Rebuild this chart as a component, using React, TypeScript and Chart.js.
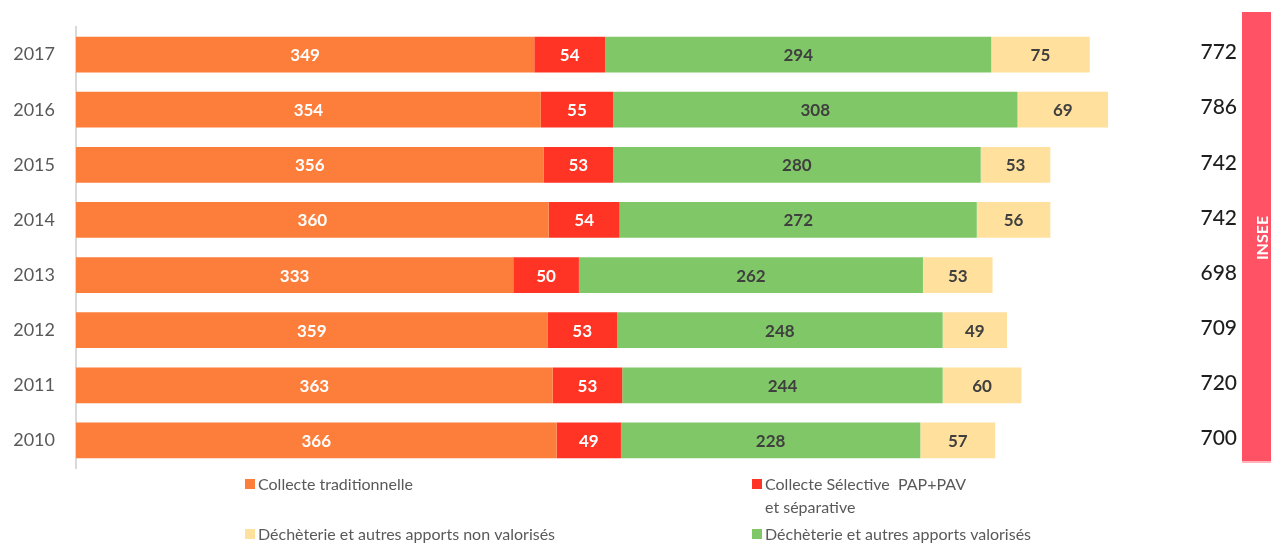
import React, { useEffect, useRef } from "react";
import { Chart, registerables } from "chart.js";

Chart.register(...registerables);

const years = ["2017", "2016", "2015", "2014", "2013", "2012", "2011", "2010"];
const collecteTraditionnelle = [349, 354, 356, 360, 333, 359, 363, 366];
const collecteSelective = [54, 55, 53, 54, 50, 53, 53, 49];
const dechetValorises = [294, 308, 280, 272, 262, 248, 244, 228];
const dechetNonValorises = [75, 69, 53, 56, 53, 49, 60, 57];
const totals = [772, 786, 742, 742, 698, 709, 720, 700];

const seriesLabels = [
  "Collecte traditionnelle",
  "Collecte Sélective  PAP+PAV et séparative",
  "Déchèterie et autres apports valorisés",
  "Déchèterie et autres apports non valorisés",
];
const legendLines = [
  ["Collecte traditionnelle"],
  ["Collecte Sélective  PAP+PAV", "et séparative"],
  ["Déchèterie et autres apports valorisés"],
  ["Déchèterie et autres apports non valorisés"],
];
const colors = ["#FD7E3A", "#FF3424", "#80C867", "#FFE09C"];
const labelColors = ["#FFFFFF", "#FFFFFF", "#3F3F3F", "#3F3F3F"];
const FONT = "Lato, 'Open Sans', sans-serif";

const labelsPlugin = {
  id: "barLabels",
  afterDatasetsDraw(chart: any) {
    const ctx = chart.ctx;
    ctx.save();
    ctx.font = `bold 17px ${FONT}`;
    ctx.textAlign = "center";
    ctx.textBaseline = "middle";
    chart.data.datasets.forEach((ds: any, di: number) => {
      const meta = chart.getDatasetMeta(di);
      meta.data.forEach((el: any, i: number) => {
        const p = el.getProps(["x", "base", "y"], true);
        ctx.fillStyle = labelColors[di];
        ctx.fillText(String(ds.data[i]), (p.x + p.base) / 2, p.y + 1);
      });
    });
    ctx.restore();
  },
};

const extrasPlugin = {
  id: "extras",
  afterDraw(chart: any) {
    const ctx = chart.ctx;
    const yScale = chart.scales.y;
    ctx.save();
    // INSEE band
    ctx.fillStyle = "#FF5264";
    ctx.fillRect(1242, 12, 30, 449);
    ctx.fillStyle = "#FFB3BB";
    ctx.fillRect(1242, 461, 30, 2);
    ctx.save();
    ctx.translate(1263, 238);
    ctx.rotate(-Math.PI / 2);
    ctx.fillStyle = "#FFFFFF";
    ctx.font = `bold 16px ${FONT}`;
    ctx.textAlign = "center";
    ctx.textBaseline = "middle";
    ctx.fillText("INSEE", 0, 0);
    ctx.restore();
    // totals
    ctx.fillStyle = "#1E1E1E";
    ctx.font = `500 21px ${FONT}`;
    ctx.textAlign = "right";
    ctx.textBaseline = "middle";
    totals.forEach((t, i) => {
      ctx.fillText(String(t), 1237, yScale.getPixelForValue(i) - 2);
    });
    // legend
    const items = [
      { di: 0, x: 245, y: 485 },
      { di: 1, x: 752, y: 485 },
      { di: 3, x: 245, y: 535 },
      { di: 2, x: 752, y: 535 },
    ];
    ctx.font = `16px ${FONT}`;
    ctx.textAlign = "left";
    items.forEach((it) => {
      ctx.fillStyle = colors[it.di];
      ctx.fillRect(it.x, it.y - 6, 10, 10);
      ctx.fillStyle = "#595959";
      legendLines[it.di].forEach((line, li) => {
        ctx.fillText(line, it.x + 13, it.y + li * 23);
      });
    });
    ctx.restore();
  },
};

export default function App() {
  const ref = useRef<HTMLCanvasElement | null>(null);
  useEffect(() => {
    if (!ref.current) return;
    const seriesData = [collecteTraditionnelle, collecteSelective, dechetValorises, dechetNonValorises];
    const chart = new Chart(ref.current, {
      type: "bar",
      data: {
        labels: years,
        datasets: seriesData.map((d, i) => ({
          label: seriesLabels[i],
          data: d,
          backgroundColor: colors[i],
          borderWidth: 0,
          categoryPercentage: 0.65,
          barPercentage: 1,
        })),
      },
      options: {
        indexAxis: "y",
        animation: false,
        responsive: true,
        maintainAspectRatio: false,
        layout: { padding: { top: 27, bottom: 76, right: 92, left: 0 } },
        plugins: { legend: { display: false }, tooltip: { enabled: false } },
        scales: {
          x: { stacked: true, min: 0, max: 840, display: false },
          y: {
            stacked: true,
            grid: { display: false, drawTicks: false },
            border: { display: true, color: "#D9D9D9", width: 2 },
            ticks: { color: "#595959", font: { family: FONT, size: 18 }, padding: 21 },
            afterFit: (s: any) => {
              s.width = 76;
              s.paddingTop = 0;
              s.paddingBottom = 0;
            },
          },
        },
      },
      plugins: [labelsPlugin, extrasPlugin],
    } as any);
    return () => chart.destroy();
  }, []);
  return (
    <div style={{ position: "fixed", left: 0, top: 0, width: 1271, height: 544, background: "#fff" }}>
      <canvas ref={ref} />
    </div>
  );
}
